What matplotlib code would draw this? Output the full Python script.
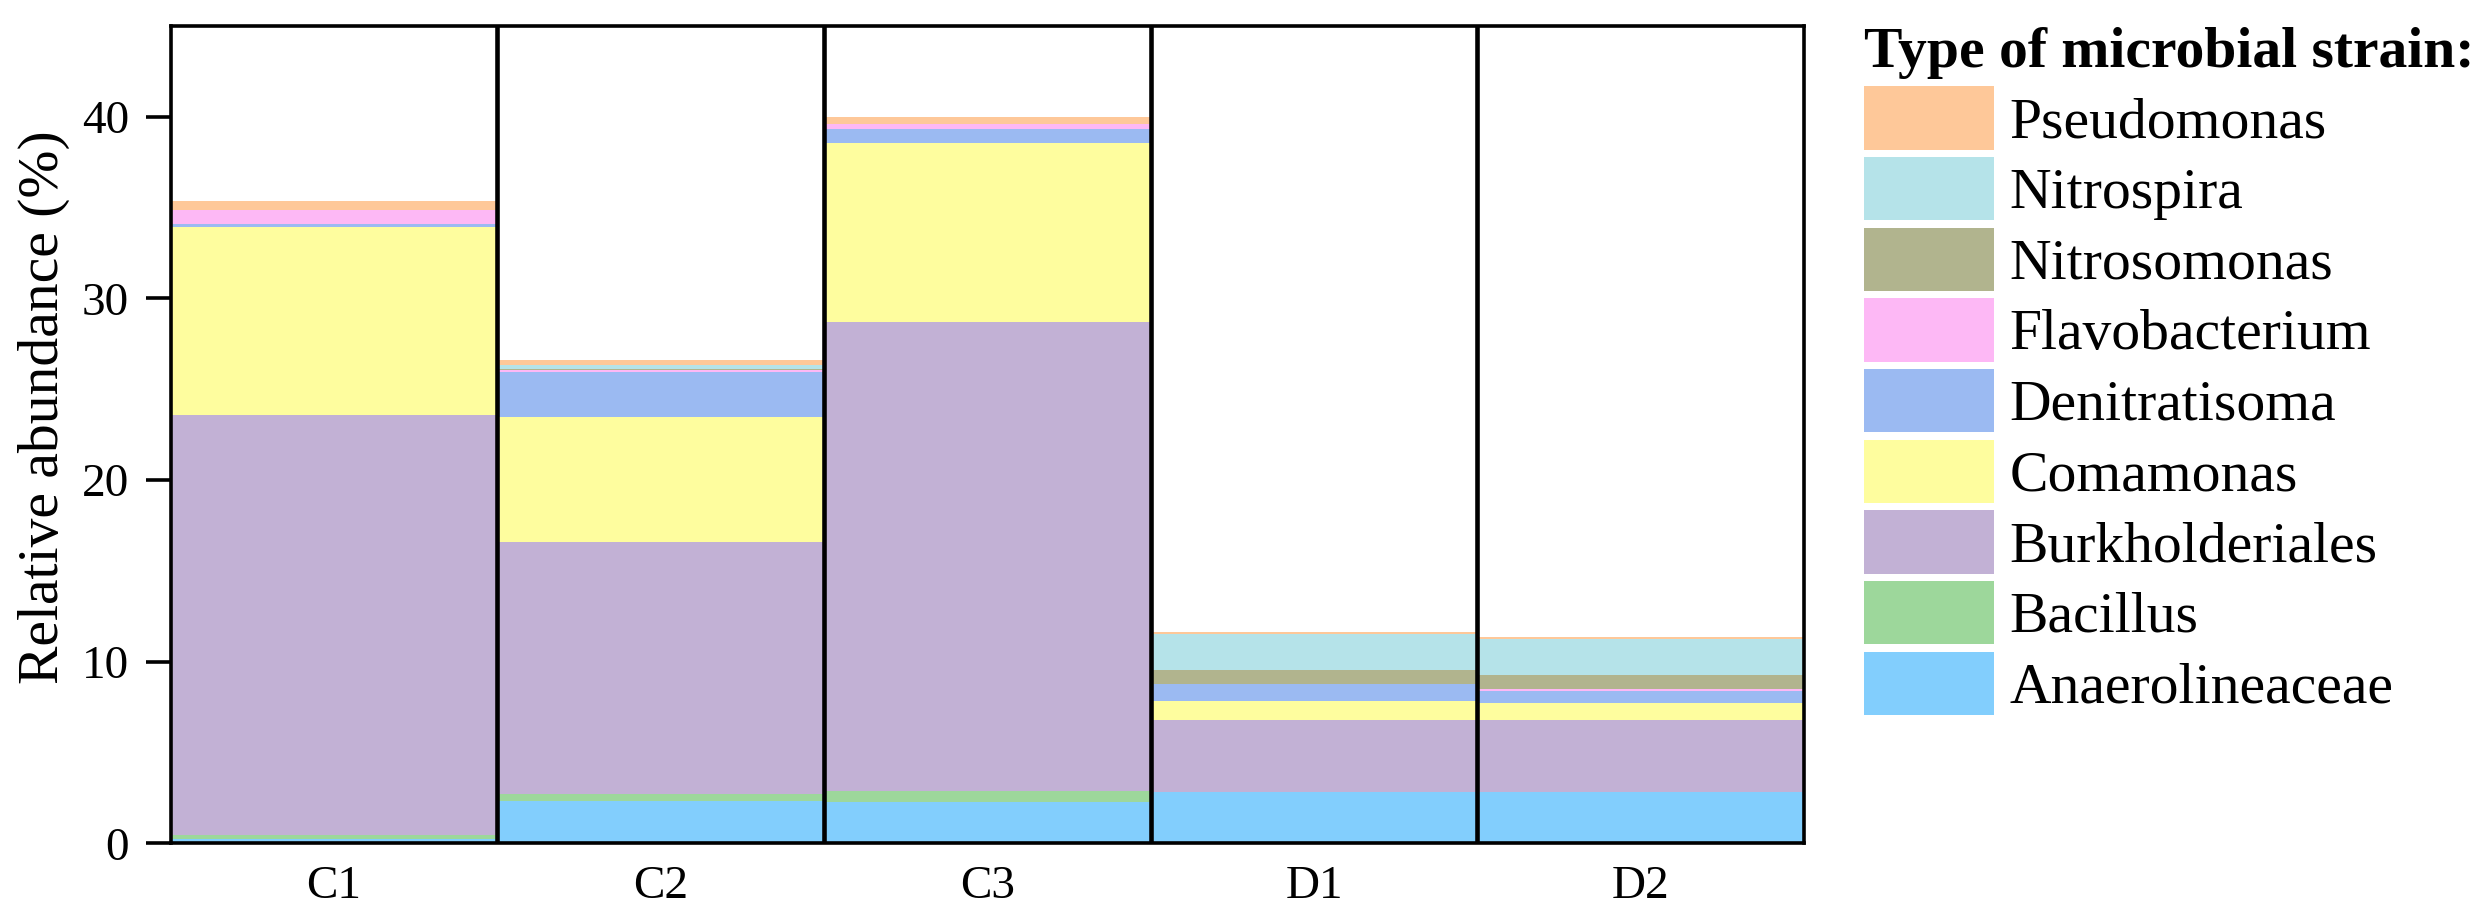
import matplotlib
matplotlib.use("Agg")
import matplotlib.pyplot as plt
import numpy as np

plt.rcParams['font.family'] = ['Liberation Serif', 'DejaVu Serif']

samples = ["C1", "C2", "C3", "D1", "D2"]

# stacked from bottom to top
strains = ["Anaerolineaceae", "Bacillus", "Burkholderiales", "Comamonas",
           "Denitratisoma", "Flavobacterium", "Nitrosomonas", "Nitrospira",
           "Pseudomonas"]
colors = ["#82CEFD", "#9DD79B", "#C2B1D5", "#FEFD9E", "#9BBAF2",
          "#FDB8F5", "#B1B48E", "#B5E3E9", "#FEC899"]

anaerolineaceae = [0.25, 2.35, 2.25, 2.83, 2.83]
bacillus        = [0.19, 0.39, 0.65, 0.00, 0.00]
burkholderiales = [23.12, 13.83, 25.80, 3.98, 3.98]
comamonas       = [10.36, 6.90, 9.88, 1.03, 0.93]
denitratisoma   = [0.20, 2.48, 0.74, 0.95, 0.65]
flavobacterium  = [0.75, 0.10, 0.29, 0.00, 0.11]
nitrosomonas    = [0.00, 0.07, 0.00, 0.75, 0.77]
nitrospira      = [0.00, 0.20, 0.00, 2.00, 1.98]
pseudomonas     = [0.48, 0.29, 0.38, 0.10, 0.11]

series = [anaerolineaceae, bacillus, burkholderiales, comamonas, denitratisoma,
          flavobacterium, nitrosomonas, nitrospira, pseudomonas]

W, H = 2490, 917
fig = plt.figure(figsize=(W / 100, H / 100), dpi=100)
ax = fig.add_axes([170.7 / W, 1 - 843.3 / H, (1804 - 170.7) / W, (843.3 - 26) / H])

x = np.arange(len(samples))
bottom = np.zeros(len(samples))
handles = []
for name, vals, col in zip(strains, series, colors):
    b = ax.bar(x, vals, width=1.0, bottom=bottom, color=col, label=name,
               linewidth=0)
    handles.append(b)
    bottom += np.array(vals)

# separators between samples
for xs in x[:-1] + 0.5:
    ax.axvline(xs, color="black", linewidth=3.3, zorder=3)

ax.set_xlim(-0.5, 4.5)
ax.set_ylim(0, 45)
ax.set_yticks([0, 10, 20, 30, 40])
ax.set_xticks(x)
ax.set_xticklabels(samples)
for sp in ax.spines.values():
    sp.set_linewidth(2.6)
    sp.set_zorder(4)
ax.tick_params(axis="y", direction="out", length=18, width=2.6, labelsize=34, pad=12)
ax.tick_params(axis="x", length=0, labelsize=34, pad=16)
ax.set_ylabel("Relative abundance (%)", fontsize=41.5)
ax.yaxis.set_label_coords(-0.0615, 0.533)

fs = 41.5
leg = fig.legend(handles[::-1], strains[::-1], loc="upper left",
                 bbox_to_anchor=(1864 / W, 1 - 27 / H), frameon=False,
                 fontsize=fs, title="Type of microbial strain:",
                 title_fontproperties={"weight": "bold", "size": fs},
                 alignment="left", borderpad=0, borderaxespad=0,
                 handlelength=2.26, handleheight=1.314, labelspacing=0.127,
                 handletextpad=0.26)

fig.savefig("out.png", dpi=100)
